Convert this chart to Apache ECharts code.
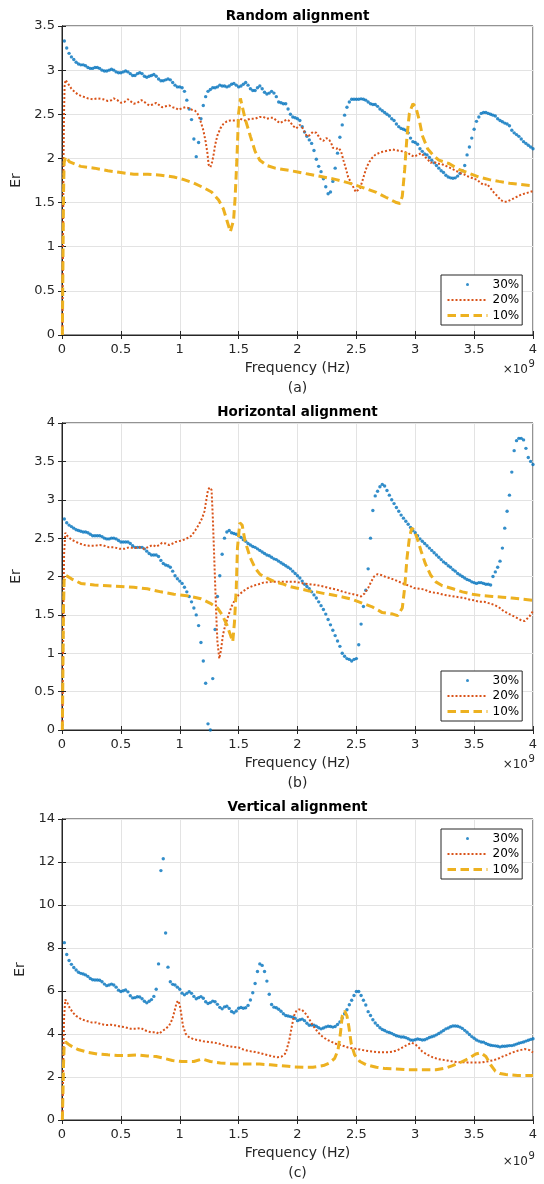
<!DOCTYPE html>
<html>
<head>
<meta charset="utf-8">
<title>Er vs frequency</title>
<script src="https://cdn.jsdelivr.net/npm/echarts@6/dist/echarts.min.js"></script>
<style>
  html, body { margin: 0; padding: 0; background: #fff; }
  #chart { width: 544px; height: 1184px; }
</style>
</head>
<body>
<div id="chart"></div>
<script>
// Sample frequencies (in units of 1e9 Hz) of the 30 % point series
const FREQ_GHZ = [
  0.02, 0.04, 0.06, 0.08, 0.10, 0.12, 0.14, 0.16, 0.18, 0.20,
  0.22, 0.24, 0.26, 0.28, 0.30, 0.32, 0.34, 0.36, 0.38, 0.40,
  0.42, 0.44, 0.46, 0.48, 0.50, 0.52, 0.54, 0.56, 0.58, 0.60,
  0.62, 0.64, 0.66, 0.68, 0.70, 0.72, 0.74, 0.76, 0.78, 0.80,
  0.82, 0.84, 0.86, 0.88, 0.90, 0.92, 0.94, 0.96, 0.98, 1.00,
  1.02, 1.04, 1.06, 1.08, 1.10, 1.12, 1.14, 1.16, 1.18, 1.20,
  1.22, 1.24, 1.26, 1.28, 1.30, 1.32, 1.34, 1.36, 1.38, 1.40,
  1.42, 1.44, 1.46, 1.48, 1.50, 1.52, 1.54, 1.56, 1.58, 1.60,
  1.62, 1.64, 1.66, 1.68, 1.70, 1.72, 1.74, 1.76, 1.78, 1.80,
  1.82, 1.84, 1.86, 1.88, 1.90, 1.92, 1.94, 1.96, 1.98, 2.00,
  2.02, 2.04, 2.06, 2.08, 2.10, 2.12, 2.14, 2.16, 2.18, 2.20,
  2.22, 2.24, 2.26, 2.28, 2.30, 2.32, 2.34, 2.36, 2.38, 2.40,
  2.42, 2.44, 2.46, 2.48, 2.50, 2.52, 2.54, 2.56, 2.58, 2.60,
  2.62, 2.64, 2.66, 2.68, 2.70, 2.72, 2.74, 2.76, 2.78, 2.80,
  2.82, 2.84, 2.86, 2.88, 2.90, 2.92, 2.94, 2.96, 2.98, 3.00,
  3.02, 3.04, 3.06, 3.08, 3.10, 3.12, 3.14, 3.16, 3.18, 3.20,
  3.22, 3.24, 3.26, 3.28, 3.30, 3.32, 3.34, 3.36, 3.38, 3.40,
  3.42, 3.44, 3.46, 3.48, 3.50, 3.52, 3.54, 3.56, 3.58, 3.60,
  3.62, 3.64, 3.66, 3.68, 3.70, 3.72, 3.74, 3.76, 3.78, 3.80,
  3.82, 3.84, 3.86, 3.88, 3.90, 3.92, 3.94, 3.96, 3.98, 4.00
];

const PANEL_TITLES = ['Random alignment', 'Horizontal alignment', 'Vertical alignment'];
const PANEL_TAGS = ['(a)', '(b)', '(c)'];
const SERIES_NAMES = ['30%', '20%', '10%'];
const X_AXIS_NAME = 'Frequency (Hz)';
const Y_AXIS_NAME = 'Er';
const Y_MAX = [3.5, 4, 14];
const Y_STEP = [0.5, 0.5, 2];

// ---------- Random alignment ----------
const ER_RANDOM_30 = [
  3.33, 3.25, 3.19, 3.15, 3.12, 3.09, 3.07, 3.06, 3.06, 3.05,
  3.03, 3.02, 3.02, 3.03, 3.03, 3.02, 3.00, 2.99, 2.99, 3.00,
  3.01, 3.00, 2.98, 2.97, 2.97, 2.98, 2.99, 2.98, 2.96, 2.94,
  2.94, 2.96, 2.97, 2.96, 2.93, 2.92, 2.93, 2.94, 2.95, 2.93,
  2.90, 2.88, 2.88, 2.89, 2.90, 2.89, 2.86, 2.83, 2.81, 2.81,
  2.80, 2.76, 2.66, 2.56, 2.44, 2.22, 2.02, 2.18, 2.45, 2.60,
  2.70, 2.76, 2.78, 2.80, 2.80, 2.81, 2.83, 2.82, 2.82, 2.81,
  2.82, 2.84, 2.85, 2.83, 2.81, 2.82, 2.84, 2.86, 2.83, 2.79,
  2.77, 2.77, 2.80, 2.82, 2.79, 2.75, 2.73, 2.74, 2.76, 2.74,
  2.70, 2.64, 2.63, 2.62, 2.62, 2.56, 2.50, 2.47, 2.46, 2.45,
  2.43, 2.36, 2.30, 2.25, 2.21, 2.17, 2.09, 1.99, 1.91, 1.85,
  1.77, 1.68, 1.60, 1.62, 1.74, 1.89, 2.06, 2.24, 2.38, 2.49,
  2.58, 2.64, 2.67, 2.67, 2.67, 2.67, 2.675, 2.67, 2.66, 2.64,
  2.62, 2.61, 2.61, 2.59, 2.56, 2.54, 2.52, 2.50, 2.48, 2.45,
  2.43, 2.39, 2.36, 2.34, 2.33, 2.32, 2.29, 2.23, 2.19, 2.18,
  2.16, 2.11, 2.08, 2.05, 2.04, 2.01, 1.98, 1.95, 1.92, 1.89,
  1.86, 1.84, 1.81, 1.79, 1.78, 1.775, 1.78, 1.80, 1.83, 1.86,
  1.92, 2.04, 2.13, 2.23, 2.33, 2.42, 2.47, 2.51, 2.52, 2.52,
  2.51, 2.50, 2.49, 2.48, 2.45, 2.43, 2.415, 2.40, 2.39, 2.37,
  2.32, 2.29, 2.27, 2.25, 2.22, 2.19, 2.17, 2.15, 2.13, 2.11
];

const ER_RANDOM_20 = [
  [0.004, 0], [0.008, 0.9], [0.012, 1.8], [0.017, 2.5], [0.022, 2.82], [0.03, 2.89],
  [0.05, 2.85], [0.08, 2.79], [0.11, 2.75], [0.14, 2.72], [0.18, 2.70], [0.22, 2.68],
  [0.26, 2.67], [0.30, 2.68], [0.35, 2.67], [0.39, 2.65], [0.42, 2.66], [0.44, 2.68],
  [0.47, 2.66], [0.50, 2.63], [0.53, 2.64], [0.56, 2.67], [0.59, 2.64], [0.61, 2.62],
  [0.64, 2.63], [0.675, 2.66], [0.71, 2.63], [0.74, 2.60], [0.77, 2.61], [0.80, 2.63],
  [0.83, 2.60], [0.85, 2.58], [0.88, 2.59], [0.91, 2.60], [0.94, 2.58], [0.965, 2.57],
  [0.99, 2.55], [1.02, 2.57], [1.05, 2.58], [1.08, 2.57], [1.105, 2.55], [1.13, 2.54],
  [1.15, 2.51], [1.175, 2.43], [1.20, 2.32], [1.22, 2.19], [1.235, 2.06], [1.245, 1.93],
  [1.26, 1.90], [1.275, 1.96], [1.29, 2.06], [1.30, 2.15], [1.32, 2.26], [1.345, 2.34],
  [1.37, 2.39], [1.40, 2.42], [1.43, 2.43], [1.46, 2.43], [1.49, 2.43], [1.51, 2.45],
  [1.555, 2.43], [1.60, 2.45], [1.64, 2.45], [1.68, 2.47], [1.71, 2.47], [1.74, 2.45],
  [1.77, 2.46], [1.795, 2.46], [1.82, 2.43], [1.85, 2.40], [1.88, 2.42], [1.91, 2.44],
  [1.935, 2.42], [1.96, 2.37], [1.99, 2.34], [2.02, 2.38], [2.04, 2.35], [2.06, 2.30],
  [2.08, 2.25], [2.10, 2.26], [2.13, 2.30], [2.16, 2.29], [2.18, 2.25], [2.20, 2.21],
  [2.22, 2.20], [2.245, 2.23], [2.27, 2.21], [2.29, 2.16], [2.30, 2.12], [2.33, 2.11],
  [2.35, 2.12], [2.37, 2.08], [2.39, 1.98], [2.41, 1.89], [2.43, 1.79], [2.46, 1.71],
  [2.48, 1.66], [2.495, 1.62], [2.51, 1.63], [2.53, 1.66], [2.55, 1.74], [2.57, 1.83],
  [2.59, 1.91], [2.61, 1.96], [2.63, 2.00], [2.66, 2.04], [2.69, 2.06], [2.72, 2.075],
  [2.77, 2.09], [2.81, 2.10], [2.85, 2.09], [2.89, 2.08], [2.94, 2.06], [2.96, 2.04],
  [2.99, 2.02], [3.02, 2.04], [3.05, 2.06], [3.08, 2.02], [3.105, 1.99], [3.13, 1.95],
  [3.16, 1.96], [3.19, 1.94], [3.22, 1.94], [3.25, 1.92], [3.27, 1.91], [3.30, 1.89],
  [3.33, 1.87], [3.36, 1.85], [3.39, 1.83], [3.415, 1.82], [3.44, 1.80], [3.47, 1.785],
  [3.50, 1.77], [3.53, 1.755], [3.555, 1.72], [3.585, 1.70], [3.61, 1.71], [3.64, 1.66],
  [3.67, 1.61], [3.70, 1.57], [3.725, 1.53], [3.75, 1.51], [3.78, 1.51], [3.81, 1.53],
  [3.84, 1.55], [3.87, 1.57], [3.90, 1.59], [3.95, 1.61], [4.0, 1.63]
];

const ER_RANDOM_10 = [
  [0.003, 0], [0.008, 0.8], [0.013, 1.6], [0.018, 1.95], [0.03, 2.02], [0.065, 1.96],
  [0.16, 1.91], [0.275, 1.89], [0.39, 1.86], [0.50, 1.84], [0.61, 1.82], [0.73, 1.82],
  [0.84, 1.81], [0.95, 1.79], [1.035, 1.76], [1.12, 1.72], [1.20, 1.67], [1.27, 1.62],
  [1.33, 1.53], [1.37, 1.43], [1.40, 1.30], [1.43, 1.17], [1.445, 1.15], [1.457, 1.30],
  [1.47, 1.55], [1.485, 1.98], [1.50, 2.51], [1.515, 2.68], [1.53, 2.66], [1.555, 2.45],
  [1.60, 2.25], [1.64, 2.08], [1.68, 1.98], [1.74, 1.92], [1.81, 1.89], [1.88, 1.875],
  [1.99, 1.85], [2.10, 1.82], [2.22, 1.79], [2.33, 1.76], [2.44, 1.72], [2.555, 1.67],
  [2.67, 1.615], [2.75, 1.56], [2.84, 1.50], [2.87, 1.49], [2.89, 1.57], [2.91, 1.87],
  [2.93, 2.25], [2.95, 2.51], [2.98, 2.62], [3.005, 2.58], [3.035, 2.43], [3.06, 2.26],
  [3.105, 2.11], [3.15, 2.04], [3.20, 1.98], [3.29, 1.94], [3.37, 1.875], [3.46, 1.83],
  [3.54, 1.79], [3.63, 1.76], [3.71, 1.74], [3.80, 1.72], [3.87, 1.71], [4.0, 1.69]
];

// ---------- Horizontal alignment ----------
const ER_HORIZONTAL_30 = [
  2.75, 2.70, 2.67, 2.65, 2.63, 2.61, 2.60, 2.59, 2.58, 2.58,
  2.57, 2.55, 2.53, 2.53, 2.53, 2.53, 2.52, 2.50, 2.49, 2.49,
  2.50, 2.50, 2.49, 2.47, 2.45, 2.45, 2.45, 2.45, 2.43, 2.40,
  2.38, 2.38, 2.38, 2.38, 2.36, 2.33, 2.30, 2.28, 2.28, 2.28,
  2.26, 2.21, 2.17, 2.15, 2.14, 2.12, 2.07, 2.01, 1.97, 1.94,
  1.91, 1.86, 1.80, 1.74, 1.67, 1.59, 1.50, 1.36, 1.14, 0.90,
  0.61, 0.08, 0.00, 0.67, 1.31, 1.74, 2.01, 2.29, 2.50, 2.58,
  2.60, 2.57, 2.56, 2.55, 2.53, 2.51, 2.48, 2.46, 2.43, 2.41,
  2.39, 2.38, 2.36, 2.34, 2.32, 2.30, 2.28, 2.27, 2.25, 2.23,
  2.22, 2.20, 2.18, 2.16, 2.14, 2.12, 2.10, 2.07, 2.04, 2.01,
  1.98, 1.94, 1.90, 1.87, 1.84, 1.80, 1.76, 1.72, 1.67, 1.62,
  1.57, 1.51, 1.44, 1.37, 1.30, 1.23, 1.16, 1.09, 1.00, 0.96,
  0.93, 0.92, 0.90, 0.92, 0.93, 1.11, 1.38, 1.61, 1.82, 2.10,
  2.50, 2.86, 3.05, 3.11, 3.17, 3.20, 3.18, 3.12, 3.06, 3.00,
  2.95, 2.90, 2.85, 2.80, 2.76, 2.72, 2.68, 2.64, 2.60, 2.57,
  2.53, 2.49, 2.46, 2.43, 2.40, 2.37, 2.34, 2.31, 2.28, 2.25,
  2.22, 2.19, 2.17, 2.14, 2.12, 2.09, 2.07, 2.04, 2.02, 2.00,
  1.98, 1.96, 1.95, 1.93, 1.92, 1.91, 1.92, 1.92, 1.91, 1.90,
  1.90, 1.89, 2.00, 2.06, 2.12, 2.20, 2.37, 2.63, 2.85, 3.06,
  3.36, 3.64, 3.77, 3.80, 3.80, 3.78, 3.67, 3.55, 3.50, 3.46
];

const ER_HORIZONTAL_20 = [
  [0.004, 0], [0.008, 0.8], [0.013, 1.7], [0.018, 2.3], [0.028, 2.57], [0.05, 2.52],
  [0.08, 2.48], [0.107, 2.46], [0.15, 2.43], [0.19, 2.41], [0.23, 2.40], [0.275, 2.40],
  [0.32, 2.41], [0.36, 2.40], [0.40, 2.38], [0.445, 2.38], [0.49, 2.36], [0.53, 2.36],
  [0.57, 2.38], [0.61, 2.37], [0.655, 2.38], [0.70, 2.36], [0.74, 2.39], [0.77, 2.41],
  [0.80, 2.39], [0.825, 2.41], [0.85, 2.44], [0.88, 2.43], [0.91, 2.41], [0.94, 2.43],
  [0.965, 2.45], [0.99, 2.46], [1.02, 2.47], [1.05, 2.49], [1.08, 2.51], [1.105, 2.54],
  [1.135, 2.61], [1.16, 2.67], [1.19, 2.76], [1.21, 2.85], [1.226, 3.00], [1.24, 3.13],
  [1.255, 3.16], [1.27, 3.13], [1.28, 2.80], [1.29, 2.37], [1.30, 1.93], [1.31, 1.50],
  [1.32, 1.15], [1.336, 0.93], [1.35, 1.04], [1.367, 1.24], [1.387, 1.37], [1.415, 1.50],
  [1.44, 1.61], [1.47, 1.70], [1.50, 1.76], [1.54, 1.81], [1.58, 1.85], [1.625, 1.88],
  [1.67, 1.90], [1.71, 1.92], [1.77, 1.93], [1.82, 1.93], [1.88, 1.93], [1.935, 1.93],
  [1.99, 1.93], [2.05, 1.91], [2.10, 1.90], [2.16, 1.89], [2.22, 1.87], [2.27, 1.85],
  [2.33, 1.83], [2.39, 1.80], [2.44, 1.78], [2.50, 1.76], [2.54, 1.74], [2.57, 1.78],
  [2.60, 1.85], [2.625, 1.93], [2.65, 2.00], [2.68, 2.03], [2.71, 2.02], [2.74, 2.00],
  [2.78, 1.98], [2.82, 1.96], [2.865, 1.93], [2.91, 1.90], [2.95, 1.88], [2.99, 1.85],
  [3.035, 1.84], [3.08, 1.83], [3.12, 1.80], [3.16, 1.79], [3.20, 1.78], [3.245, 1.76],
  [3.29, 1.75], [3.33, 1.74], [3.37, 1.73], [3.415, 1.72], [3.46, 1.70], [3.50, 1.69],
  [3.54, 1.67], [3.585, 1.67], [3.63, 1.65], [3.67, 1.63], [3.71, 1.60], [3.75, 1.55],
  [3.80, 1.51], [3.84, 1.48], [3.90, 1.43], [3.93, 1.42], [3.97, 1.48], [4.0, 1.55]
];

const ER_HORIZONTAL_10 = [
  [0.003, 0], [0.008, 0.8], [0.013, 1.6], [0.018, 1.95], [0.03, 2.02], [0.08, 1.97],
  [0.16, 1.91], [0.275, 1.89], [0.39, 1.88], [0.50, 1.87], [0.61, 1.86], [0.725, 1.84],
  [0.84, 1.80], [0.95, 1.77], [1.06, 1.75], [1.18, 1.71], [1.26, 1.65], [1.32, 1.59],
  [1.36, 1.50], [1.40, 1.37], [1.43, 1.24], [1.45, 1.15], [1.465, 1.41], [1.48, 1.85],
  [1.49, 2.37], [1.51, 2.70], [1.53, 2.67], [1.555, 2.46], [1.60, 2.24], [1.64, 2.11],
  [1.68, 2.03], [1.74, 1.98], [1.81, 1.93], [1.88, 1.90], [1.935, 1.87], [1.99, 1.85],
  [2.05, 1.83], [2.10, 1.81], [2.16, 1.80], [2.22, 1.78], [2.30, 1.76], [2.39, 1.73],
  [2.47, 1.70], [2.555, 1.65], [2.64, 1.60], [2.72, 1.53], [2.81, 1.51], [2.85, 1.49],
  [2.89, 1.59], [2.91, 1.85], [2.93, 2.24], [2.95, 2.50], [2.97, 2.63], [2.99, 2.61],
  [3.02, 2.48], [3.05, 2.33], [3.085, 2.17], [3.13, 2.02], [3.175, 1.93], [3.23, 1.88],
  [3.32, 1.84], [3.40, 1.80], [3.485, 1.77], [3.57, 1.75], [3.655, 1.74], [3.74, 1.73],
  [3.82, 1.72], [4.0, 1.69]
];

// ---------- Vertical alignment ----------
const ER_VERTICAL_30 = [
  8.25, 7.70, 7.42, 7.24, 7.09, 6.98, 6.87, 6.82, 6.79, 6.75,
  6.68, 6.58, 6.52, 6.51, 6.51, 6.50, 6.43, 6.32, 6.25, 6.28,
  6.32, 6.28, 6.18, 6.04, 5.98, 6.01, 6.05, 5.96, 5.78, 5.68,
  5.69, 5.73, 5.72, 5.64, 5.52, 5.45, 5.52, 5.60, 5.75, 6.08,
  7.26, 11.60, 12.15, 8.70, 7.11, 6.43, 6.31, 6.28, 6.18, 6.08,
  5.90, 5.82, 5.89, 5.97, 5.89, 5.75, 5.64, 5.69, 5.74, 5.66,
  5.50, 5.42, 5.46, 5.53, 5.50, 5.38, 5.24, 5.17, 5.26, 5.29,
  5.19, 5.05, 4.99, 5.07, 5.20, 5.23, 5.20, 5.22, 5.33, 5.58,
  5.92, 6.35, 6.91, 7.26, 7.19, 6.91, 6.46, 5.85, 5.37, 5.25,
  5.22, 5.15, 5.06, 4.94, 4.86, 4.84, 4.81, 4.78, 4.73, 4.62,
  4.66, 4.69, 4.62, 4.50, 4.41, 4.42, 4.41, 4.36, 4.29, 4.24,
  4.28, 4.33, 4.36, 4.35, 4.32, 4.35, 4.44, 4.56, 4.74, 4.94,
  5.13, 5.36, 5.57, 5.79, 5.98, 5.98, 5.79, 5.57, 5.35, 5.04,
  4.86, 4.66, 4.51, 4.40, 4.29, 4.21, 4.16, 4.10, 4.07, 4.03,
  3.97, 3.92, 3.89, 3.86, 3.86, 3.83, 3.78, 3.72, 3.71, 3.73,
  3.77, 3.75, 3.72, 3.73, 3.78, 3.84, 3.87, 3.91, 3.96, 4.02,
  4.09, 4.16, 4.24, 4.28, 4.34, 4.37, 4.37, 4.36, 4.32, 4.26,
  4.17, 4.08, 3.98, 3.88, 3.80, 3.72, 3.67, 3.63, 3.62, 3.56,
  3.51, 3.48, 3.46, 3.45, 3.43, 3.40, 3.43, 3.43, 3.44, 3.46,
  3.46, 3.49, 3.53, 3.57, 3.60, 3.63, 3.67, 3.71, 3.75, 3.78
];

const ER_VERTICAL_20 = [
  [0.004, 0], [0.008, 1.5], [0.013, 3.5], [0.018, 4.8], [0.028, 5.60], [0.045, 5.45],
  [0.065, 5.22], [0.093, 4.99], [0.12, 4.84], [0.163, 4.69], [0.205, 4.61], [0.25, 4.54],
  [0.29, 4.54], [0.33, 4.46], [0.375, 4.42], [0.415, 4.43], [0.46, 4.39], [0.50, 4.34],
  [0.54, 4.31], [0.585, 4.24], [0.627, 4.24], [0.67, 4.28], [0.71, 4.16], [0.754, 4.08],
  [0.80, 4.08], [0.824, 4.01], [0.85, 4.13], [0.88, 4.24], [0.91, 4.39], [0.937, 4.69],
  [0.956, 5.07], [0.973, 5.45], [0.987, 5.55], [1.0, 5.37], [1.013, 4.92], [1.027, 4.39],
  [1.05, 4.01], [1.077, 3.86], [1.12, 3.75], [1.16, 3.71], [1.20, 3.66], [1.246, 3.63],
  [1.29, 3.60], [1.33, 3.56], [1.373, 3.48], [1.415, 3.43], [1.457, 3.40], [1.50, 3.37],
  [1.54, 3.28], [1.585, 3.21], [1.626, 3.18], [1.67, 3.13], [1.71, 3.07], [1.752, 3.01],
  [1.795, 2.95], [1.83, 2.92], [1.865, 2.95], [1.893, 3.07], [1.907, 3.25], [1.93, 3.71],
  [1.95, 4.31], [1.97, 4.84], [1.99, 5.07], [2.01, 5.14], [2.034, 5.14], [2.054, 5.04],
  [2.076, 4.89], [2.10, 4.69], [2.124, 4.46], [2.147, 4.27], [2.175, 4.08], [2.20, 3.93],
  [2.23, 3.81], [2.26, 3.71], [2.29, 3.63], [2.316, 3.56], [2.344, 3.51], [2.37, 3.48],
  [2.40, 3.43], [2.43, 3.37], [2.47, 3.33], [2.51, 3.30], [2.555, 3.25], [2.60, 3.21],
  [2.64, 3.18], [2.68, 3.15], [2.72, 3.15], [2.77, 3.15], [2.81, 3.18], [2.85, 3.25],
  [2.89, 3.37], [2.94, 3.52], [2.97, 3.59], [3.0, 3.52], [3.03, 3.37], [3.06, 3.18],
  [3.105, 3.03], [3.147, 2.92], [3.19, 2.84], [3.23, 2.80], [3.27, 2.77], [3.317, 2.72],
  [3.36, 2.69], [3.40, 2.69], [3.443, 2.68], [3.486, 2.68], [3.53, 2.68], [3.57, 2.68],
  [3.61, 2.72], [3.655, 2.77], [3.70, 2.84], [3.74, 2.95], [3.78, 3.03], [3.82, 3.13],
  [3.87, 3.22], [3.93, 3.30], [3.97, 3.25], [4.0, 3.14]
];

const ER_VERTICAL_10 = [
  [0.003, 0], [0.008, 1.2], [0.013, 2.6], [0.018, 3.4], [0.03, 3.63], [0.065, 3.48],
  [0.135, 3.28], [0.22, 3.15], [0.30, 3.07], [0.39, 3.03], [0.47, 3.00], [0.56, 3.00],
  [0.64, 3.03], [0.725, 2.98], [0.80, 2.95], [0.866, 2.87], [0.937, 2.77], [1.02, 2.72],
  [1.12, 2.72], [1.19, 2.84], [1.26, 2.72], [1.345, 2.65], [1.43, 2.62], [1.51, 2.60],
  [1.60, 2.60], [1.68, 2.60], [1.77, 2.57], [1.85, 2.53], [1.92, 2.50], [1.96, 2.47],
  [2.05, 2.45], [2.13, 2.45], [2.22, 2.53], [2.27, 2.65], [2.316, 2.87], [2.344, 3.25],
  [2.364, 4.01], [2.38, 4.84], [2.40, 5.07], [2.42, 4.84], [2.437, 4.31], [2.456, 3.56],
  [2.485, 3.03], [2.53, 2.72], [2.584, 2.57], [2.67, 2.45], [2.75, 2.39], [2.837, 2.37],
  [2.92, 2.34], [3.006, 2.34], [3.09, 2.34], [3.176, 2.34], [3.26, 2.42], [3.317, 2.53],
  [3.373, 2.65], [3.43, 2.80], [3.47, 2.92], [3.514, 3.07], [3.556, 3.13], [3.60, 2.95],
  [3.64, 2.57], [3.68, 2.27], [3.72, 2.16], [3.77, 2.12], [3.82, 2.09], [3.87, 2.07],
  [4.0, 2.07]
];

const PANEL_DATA = [
  { dots: ER_RANDOM_30, dotted: ER_RANDOM_20, dashed: ER_RANDOM_10 },
  { dots: ER_HORIZONTAL_30, dotted: ER_HORIZONTAL_20, dashed: ER_HORIZONTAL_10 },
  { dots: ER_VERTICAL_30, dotted: ER_VERTICAL_20, dashed: ER_VERTICAL_10 }
];

// ---------- Layout and styling ----------
const FONT = 'DejaVu Sans';
const INK = '#262626';
const GRID_LINE = '#e3e3e3';
const COLOR_30 = '#0072BD';
const COLOR_20 = '#D95319';
const COLOR_10 = '#EDB120';

const PLOT_LEFT = 62;
const PLOT_WIDTH = 471;
const PANEL_LAYOUT = [
  { top: 26,  height: 309, titleTop: 9,     legendTop: 275 },
  { top: 423, height: 307, titleTop: 405,   legendTop: 671 },
  { top: 819, height: 308, titleTop: 800.5, legendTop: 829 }
];

const option = {
  animation: false,
  backgroundColor: '#fff',
  title: [], grid: [], xAxis: [], yAxis: [], legend: [], series: [], graphic: []
};

PANEL_DATA.forEach((panel, i) => {
  const L = PANEL_LAYOUT[i];
  const bottom = L.top + L.height;

  option.title.push({
    text: PANEL_TITLES[i],
    left: PLOT_LEFT + PLOT_WIDTH / 2,
    top: L.titleTop,
    textAlign: 'center',
    padding: 0,
    textStyle: { fontFamily: FONT, fontSize: 13.5, fontWeight: 'bold', color: '#000' }
  });

  option.grid.push({
    left: PLOT_LEFT, top: L.top, width: PLOT_WIDTH, height: L.height,
    show: true, borderColor: INK, borderWidth: 1, backgroundColor: '#fff'
  });

  const tick = { show: true, inside: true, length: 4, lineStyle: { color: INK, width: 1 } };
  const line = { show: true, lineStyle: { color: INK, width: 1 } };

  // bottom x axis with labels, top x axis as the box edge with ticks only
  option.xAxis.push({
    gridIndex: i, type: 'value', position: 'bottom', min: 0, max: 4, interval: 0.5,
    axisLine: line, axisTick: tick,
    axisLabel: { margin: 8, fontFamily: FONT, fontSize: 13, color: INK },
    splitLine: { show: true, lineStyle: { color: GRID_LINE, width: 1 } },
    name: X_AXIS_NAME + '\n' + PANEL_TAGS[i],
    nameLocation: 'middle', nameGap: 23,
    nameTextStyle: { fontFamily: FONT, fontSize: 14, lineHeight: 20, color: INK }
  });
  option.xAxis.push({
    gridIndex: i, type: 'value', position: 'top', min: 0, max: 4, interval: 0.5,
    axisLine: line, axisTick: tick, axisLabel: { show: false }, splitLine: { show: false }
  });

  option.yAxis.push({
    gridIndex: i, type: 'value', position: 'left', min: 0, max: Y_MAX[i], interval: Y_STEP[i],
    axisLine: line, axisTick: tick,
    axisLabel: { margin: 7, fontFamily: FONT, fontSize: 13, color: INK },
    splitLine: { show: true, lineStyle: { color: GRID_LINE, width: 1 } },
    name: Y_AXIS_NAME, nameLocation: 'middle', nameGap: 20, nameRotate: 90,
    nameTextStyle: { fontFamily: FONT, fontSize: 14, color: INK }
  });
  option.yAxis.push({
    gridIndex: i, type: 'value', position: 'right', min: 0, max: Y_MAX[i], interval: Y_STEP[i],
    axisLine: line, axisTick: tick, axisLabel: { show: false }, splitLine: { show: false }
  });

  const xi = 2 * i, yi = 2 * i;

  option.series.push({
    type: 'scatter', name: SERIES_NAMES[0], xAxisIndex: xi, yAxisIndex: yi,
    data: FREQ_GHZ.map((f, k) => [f, panel.dots[k]]),
    symbol: 'circle', symbolSize: 3.4, color: COLOR_30,
    itemStyle: { color: COLOR_30 }, silent: true
  });
  option.series.push({
    type: 'line', name: SERIES_NAMES[1], xAxisIndex: xi, yAxisIndex: yi,
    data: panel.dotted, symbol: 'none', color: COLOR_20,
    lineStyle: { color: COLOR_20, width: 2, type: [2, 2] }, silent: true
  });
  option.series.push({
    type: 'line', name: SERIES_NAMES[2], xAxisIndex: xi, yAxisIndex: yi,
    data: panel.dashed, symbol: 'none', color: COLOR_10,
    lineStyle: { color: COLOR_10, width: 3, type: [8.5, 4.5] }, silent: true
  });

  option.legend.push({
    orient: 'vertical', left: 441, top: L.legendTop,
    padding: [2, 3, 2, 5], backgroundColor: '#fff',
    borderColor: INK, borderWidth: 1, borderRadius: 0,
    itemWidth: 40, itemHeight: 3, itemGap: 0.5, selectedMode: false,
    textStyle: { fontFamily: FONT, fontSize: 12, lineHeight: 15, color: '#000' },
    data: [
      { name: SERIES_NAMES[0], icon: 'circle' },
      { name: SERIES_NAMES[1], itemStyle: { opacity: 0 } },
      { name: SERIES_NAMES[2], itemStyle: { opacity: 0 }, lineStyle: { width: 3 } }
    ]
  });

  // x-axis exponent note
  option.graphic.push({
    type: 'text', x: 528, y: bottom + 34.5, silent: true,
    style: { text: '\u00d710', align: 'right', verticalAlign: 'middle',
             font: '12px "DejaVu Sans"', fill: INK }
  });
  option.graphic.push({
    type: 'text', x: 528.5, y: bottom + 29, silent: true,
    style: { text: '9', align: 'left', verticalAlign: 'middle',
             font: '10px "DejaVu Sans"', fill: INK }
  });
});

const chart = echarts.init(document.getElementById('chart'), null, { renderer: 'canvas' });
chart.setOption(option);
</script>
</body>
</html>
